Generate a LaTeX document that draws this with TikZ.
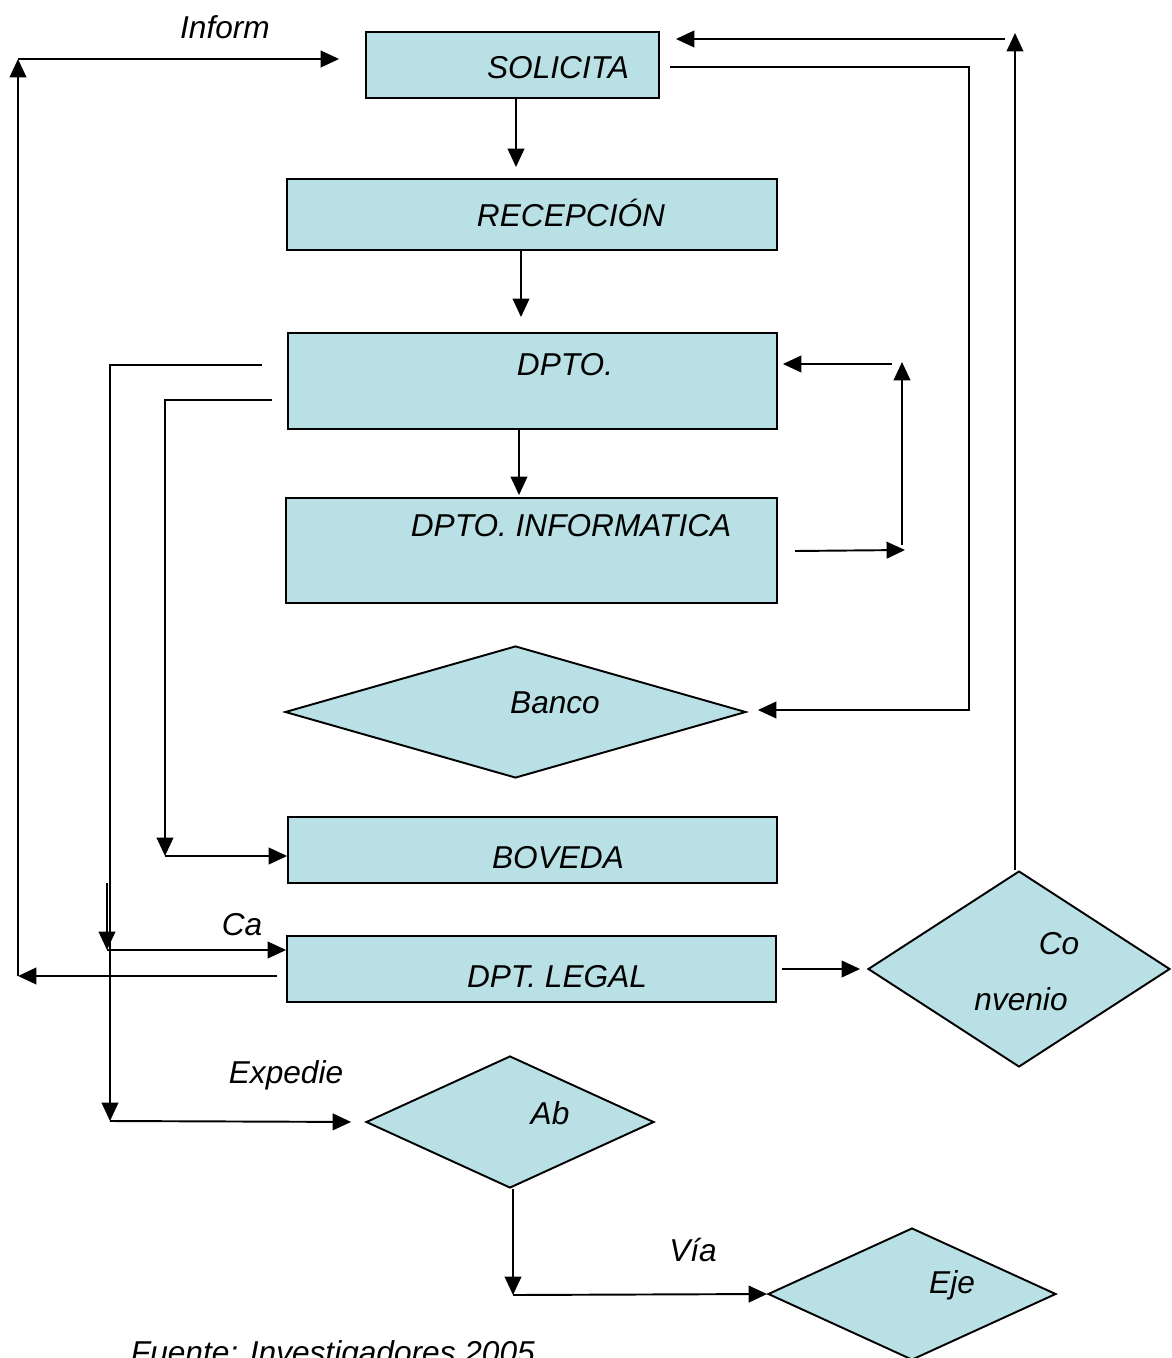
\documentclass[tikz,border=0pt]{standalone}
\usepackage{fontspec}
\setmainfont{Liberation Sans}
\usetikzlibrary{arrows.meta, positioning, shapes.geometric, calc}
\definecolor{boxblue}{RGB}{185,224,228}
\tikzset{
    >={Triangle[length=10.5pt,width=9.5pt]}, % filled arrow heads
    x=0.02cm, y=-0.02cm, % one unit is one pixel of the drawing, y runs down
    box/.style={draw, fill=boxblue, line width=1.1pt, inner sep=0pt}, % process boxes
    decision/.style={diamond, draw, fill=boxblue, line width=1.1pt, inner sep=0pt}, % the rhombi
    txt/.style={font=\fontsize{18}{21}\selectfont\itshape, inner sep=0pt}, % all the texts
    }
\begin{document}
\begin{tikzpicture}[line width=1.1pt]
\useasboundingbox (0,0) rectangle (1172,1358);

\node[box, minimum width=5.86cm, minimum height=1.32cm] (sol) at (512.5,65) {};
\node[box, minimum width=9.8cm, minimum height=1.42cm] (rec) at (532,214.5) {};
\node[box, minimum width=9.78cm, minimum height=1.92cm] (dpto) at (532.5,381) {};
\node[box, minimum width=9.82cm, minimum height=2.1cm] (info) at (531.5,550.5) {};
\node[decision, minimum width=9.22cm, minimum height=2.64cm] (banco) at (515.5,712) {};
\node[box, minimum width=9.78cm, minimum height=1.32cm] (bov) at (532.5,850) {};
\node[box, minimum width=9.78cm, minimum height=1.32cm] (legal) at (531.5,969) {};
\node[decision, minimum width=6.04cm, minimum height=3.92cm] (conv) at (1019,969) {};
\node[decision, minimum width=5.76cm, minimum height=2.64cm] (ab) at (510,1122) {};
\node[decision, minimum width=5.76cm, minimum height=2.64cm] (eje) at (912,1294) {};

% texts
\node[txt] (t-inf) at (225,27) {Inform};
\node[txt] (t-sol) at (558,68) {SOLICITA};
\node[txt] (t-rec) at (571,213) {RECEPCIÓN};
\node[txt] (t-dpto) at (565,365) {DPTO.};
\node[txt] (t-info) at (571,526) {DPTO. INFORMATICA};
\node[txt] (t-banco) at (555,703) {Banco};
\node[txt] (t-bov) at (558,858) {BOVEDA};
\node[txt] (t-ca) at (242,925) {Ca};
\node[txt] (t-legal) at (557,977) {DPT. LEGAL};
\node[txt] (t-co) at (1059,944) {Co};
\node[txt] (t-nv) at (1021,999) {nvenio};
\node[txt] (t-exp) at (286,1075) {Expedie};
\node[txt] (t-ab) at (550,1113) {Ab};
\node[txt] (t-via) at (693,1250) {Vía};
\node[txt] (t-eje) at (952,1285) {Eje};
\node[txt, anchor=base west] (t-fte) at (130,1363) {Fuente: Investigadores 2005};

% corners
\coordinate (lft-b) at (18,976);
\coordinate (lft-t) at (18,59);
\coordinate (lp-a) at (795,551);
\coordinate (lp-b) at (905,550);
\coordinate (lp-c) at (902,545);
\coordinate (lp-d) at (902,362);
\coordinate (lp-e) at (892,364);
\coordinate (ban-c1) at (969,67);
\coordinate (ban-c2) at (969,710);
\coordinate (cv-t) at (1015,33);
\coordinate (cv-r) at (1005,39);
\coordinate (exp-c1) at (110,365);
\coordinate (exp-c2) at (110,1121);
\coordinate (bov-c1) at (165,400);
\coordinate (bov-c2) at (165,856);
\coordinate (ca-t) at (107,883);
\coordinate (ca-c) at (107,950);
\coordinate (via-c) at (513,1295);

% left return line
\draw[->, shorten <=0.18cm] (legal.west |- lft-b) -- (lft-b);
\draw[->] (lft-b) -- (lft-t);
\draw[->, shorten >=0.52cm] (lft-t) -- (sol.west |- lft-t);

% main column
\draw[->, shorten >=0.22cm] ([xshift=0.07cm]sol.south) -- ([xshift=0.07cm]sol.south |- rec.north);
\draw[->, shorten >=0.3cm] ([xshift=-0.22cm]rec.south) -- ([xshift=-0.22cm]rec.south |- dpto.north);
\draw[->, shorten >=0.04cm] ([xshift=-0.27cm]dpto.south) -- ([xshift=-0.27cm]dpto.south |- info.north);

% loop DPTO / DPTO. INFORMATICA
\draw[->] (lp-a) -- (lp-b);
\draw[->] (lp-c) -- (lp-d);
\draw[->, shorten >=0.1cm] (lp-e) -- (dpto.east |- lp-e);

% SOLICITA to Banco
\draw[->, shorten <=0.2cm, shorten >=0.22cm] (sol.east |- ban-c1) -- (ban-c1) -- (ban-c2) -- (banco.east |- ban-c2);

% Convenio back to SOLICITA
\draw[->] (conv.north -| cv-t) -- (cv-t);
\draw[->, shorten >=0.32cm] (cv-r) -- (sol.east |- cv-r);
\draw[->, shorten <=0.1cm, shorten >=0.14cm] (legal.east |- conv.west) -- (conv.west);

% DPTO down the left side
\draw[->, shorten <=0.5cm] (dpto.west |- exp-c1) -- (exp-c1) -- (exp-c2);
\draw[->, shorten >=0.28cm] (exp-c2) -- (ab.west);
\draw[->, shorten <=0.3cm] (dpto.west |- bov-c1) -- (bov-c1) -- (bov-c2);
\draw[->] (bov-c2) -- (bov.west |- bov-c2);
\draw[->] (ca-t) -- (ca-c);
\draw[->] (ca-c) -- (legal.west |- ca-c);

% Ab to Eje
\draw[->] (ab.south -| via-c) -- (via-c);
\draw[->] (via-c) -- (eje.west);

\end{tikzpicture}
\end{document}
